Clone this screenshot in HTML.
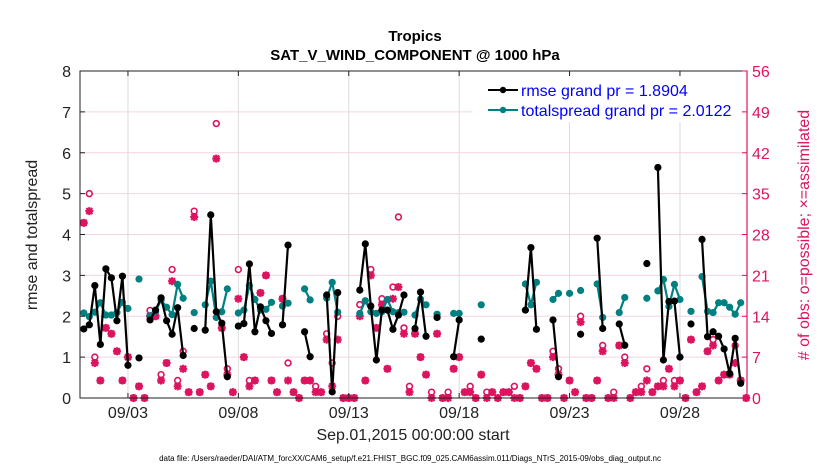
<!DOCTYPE html>
<html><head><meta charset="utf-8"><style>
body{margin:0;background:#fff;}
svg{display:block;font-family:"Liberation Sans",sans-serif;}
</style></head><body>
<svg id="chart" width="830" height="470" viewBox="0 0 830 470">
<g id="grid"></g>
<g id="marks"></g>
<g id="axes"></g>
</svg>
<script>
const rmse=[1.69,1.79,2.75,1.31,3.16,2.94,1.89,2.98,0.80,null,0.98,null,1.91,2.15,2.45,1.89,1.56,2.21,1.04,null,1.70,null,1.66,4.48,2.11,1.83,0.52,null,1.76,1.82,3.28,1.62,2.23,1.89,1.58,null,1.79,3.74,null,null,1.62,1.01,null,null,2.52,0.15,2.58,null,null,null,2.64,3.77,2.25,0.93,2.15,2.15,1.68,2.03,2.52,null,1.70,2.59,1.51,null,1.97,null,null,1.01,1.91,null,null,null,1.44,null,null,null,null,null,null,null,2.15,3.68,1.68,null,null,1.91,0.52,null,null,null,1.56,null,null,3.91,1.70,null,null,1.81,1.29,null,null,null,3.29,null,5.64,0.93,2.36,2.37,1.00,null,1.81,null,3.88,1.50,1.62,1.51,1.20,0.60,1.46,0.36,null];
const spread=[2.08,1.99,2.10,2.33,2.03,2.03,2.09,2.34,2.19,null,2.91,null,2.01,2.12,2.40,2.22,2.04,2.78,2.44,null,2.09,null,2.28,2.86,1.97,2.11,2.67,null,2.08,2.15,2.75,2.41,2.15,2.17,2.34,null,2.25,2.32,null,null,2.67,2.40,null,null,2.44,2.83,2.10,null,null,null,2.07,2.38,2.11,2.07,2.11,2.41,2.11,2.09,2.10,null,2.03,2.42,2.28,null,2.05,null,null,2.07,2.07,null,null,null,2.28,null,null,null,null,null,null,null,2.79,2.28,2.83,null,null,2.41,2.56,null,2.56,null,2.63,null,null,2.79,1.97,null,null,2.09,2.46,null,null,null,2.44,null,2.62,2.90,2.24,2.78,2.41,null,2.12,null,2.97,2.12,2.09,2.33,2.33,2.22,2.05,2.33,null];
const assimilated=[30,32,6,3,12,11,8,3,7,0,2,0,14,14,3,6,20,2,5,1,31,1,4,2,41,12,4,1,17,7,2,3,18,21,3,1,17,3,1,0,3,3,1,1,10,2,10,0,0,0,14,3,21,12,16,5,17,19,11,1,11,7,4,0,11,0,0,5,7,1,1,0,4,0,1,0,1,1,0,0,2,6,5,0,0,7,4,0,3,1,13,0,0,3,8,0,0,9,6,0,1,1,3,1,2,2,5,2,3,0,10,1,2,8,9,3,4,4,6,3,0];
const possible=[30,35,7,3,12,11,8,3,7,0,2,0,15,14,4,6,22,3,8,1,32,1,4,2,47,12,5,1,22,7,3,3,18,21,3,1,17,6,1,0,3,3,2,1,11,6,14,0,0,0,16,3,22,12,17,5,19,31,12,2,11,7,4,1,11,0,1,5,7,1,2,0,4,1,1,0,1,1,2,0,2,6,5,0,0,8,5,0,3,1,14,0,0,3,9,0,1,9,7,0,1,2,5,1,2,3,5,3,3,0,10,1,2,8,10,3,4,4,9,3,0];
const yTicks=[0,1,2,3,4,5,6,7,8];
const yRightTicks=[0,7,14,21,28,35,42,49,56];
const xTickLabels=["09/03","09/08","09/13","09/18","09/23","09/28"];
const xTickDays=[2,7,12,17,22,27];

const NS="http://www.w3.org/2000/svg";
const L=80,R=747,T=71,B=398;
const X0=83.8,PX_DAY=22.08;
function xs(i){return X0+i*PX_DAY/4;}
function xd(d){return X0+d*PX_DAY;}
function ys(v){return B-(v/8)*(B-T);}
function yr(n){return B-(n/56)*(B-T);}
function mk(tag,attrs,parent){const e=document.createElementNS(NS,tag);for(const k in attrs)e.setAttribute(k,attrs[k]);parent.appendChild(e);return e;}
const grid=document.getElementById('grid'),marks=document.getElementById('marks'),axes=document.getElementById('axes');
const PINK="#dc1460";

yTicks.forEach(v=>{const l=mk('line',{x1:L,x2:R,y1:ys(v),y2:ys(v),stroke:'#f5d3e2','stroke-width':1},grid);

});
xTickDays.forEach(d=>{const l=mk('line',{x1:xd(d),x2:xd(d),y1:T,y2:B,stroke:'#dcdcdc','stroke-width':1},grid);

});

possible.forEach((n,i)=>{const c=mk('circle',{cx:xs(i),cy:yr(n),r:2.9,fill:'#fff',stroke:PINK,'stroke-width':1.6},marks);

});
assimilated.forEach((n,i)=>{const x=xs(i),y=yr(n),s=4;
const g=mk('path',{d:`M${x-s} ${y}H${x+s}M${x} ${y-s}V${y+s}M${x-3} ${y-3}L${x+3} ${y+3}M${x-3} ${y+3}L${x+3} ${y-3}`,stroke:PINK,'stroke-width':2.2,fill:'none'},marks);

});

function series(arr,color,name){
  let d='';let pen=false;
  arr.forEach((v,i)=>{if(v===null){pen=false;return;}d+=(pen?'L':'M')+xs(i).toFixed(1)+' '+ys(v).toFixed(1);pen=true;});
  const p=mk('path',{d:d,stroke:color,'stroke-width':2.2,fill:'none','stroke-linejoin':'round'},marks);
  
  
  arr.forEach((v,i)=>{if(v===null)return;const c=mk('circle',{cx:xs(i),cy:ys(v),r:3.6,fill:color},marks);
  
  });
}
series(spread,'#008080','totalspread');
series(rmse,'#000000','rmse');

mk('rect',{x:L,y:T,width:R-L,height:B-T,fill:'none',stroke:'#222','stroke-width':1},axes);
mk('line',{x1:R,x2:R,y1:T,y2:B,stroke:PINK,'stroke-width':1.2},axes);
yTicks.forEach(v=>{mk('line',{x1:L,x2:L+5,y1:ys(v),y2:ys(v),stroke:'#222'},axes);
const t=mk('text',{x:L-9,y:ys(v)+6,'text-anchor':'end','font-size':16,fill:'#222'},axes);t.textContent=v;

});
yRightTicks.forEach(n=>{mk('line',{x1:R-5,x2:R,y1:yr(n),y2:yr(n),stroke:PINK},axes);
const t=mk('text',{x:R+5,y:yr(n)+6,'font-size':16,fill:PINK},axes);t.textContent=n;

});
xTickDays.forEach((d,k)=>{mk('line',{x1:xd(d),x2:xd(d),y1:B,y2:B-5,stroke:'#222'},axes);mk('line',{x1:xd(d),x2:xd(d),y1:T,y2:T+5,stroke:'#222'},axes);
const t=mk('text',{x:xd(d),y:B+20,'text-anchor':'middle','font-size':16,fill:'#222'},axes);t.textContent=xTickLabels[k];

});
</script>
<svg width="830" height="470" style="position:absolute;left:0;top:0">
<text x="415" y="41" text-anchor="middle" font-size="15" font-weight="bold" fill="#000">Tropics</text>
<text x="415" y="60" text-anchor="middle" font-size="15" font-weight="bold" fill="#000">SAT_V_WIND_COMPONENT @ 1000 hPa</text>
<text transform="translate(37,235) rotate(-90)" text-anchor="middle" font-size="16" fill="#222">rmse and totalspread</text>
<text transform="translate(809,235) rotate(-90)" text-anchor="middle" font-size="16" fill="#dc1460"># of obs: o=possible; ×=assimilated</text>
<text x="413" y="440" text-anchor="middle" font-size="16" fill="#222">Sep.01,2015 00:00:00 start</text>
<text x="410" y="461" text-anchor="middle" font-size="8" fill="#000">data file: /Users/raeder/DAI/ATM_forcXX/CAM6_setup/f.e21.FHIST_BGC.f09_025.CAM6assim.011/Diags_NTrS_2015-09/obs_diag_output.nc</text>
<g>
<rect x="472" y="76" width="270" height="46" fill="#fff"/>
<g>
<line x1="488" x2="518" y1="90" y2="90" stroke="#000" stroke-width="2"/><circle cx="503" cy="90" r="3.2" fill="#000"/>
<text x="521" y="96" font-size="16" fill="#0000ff">rmse grand pr = 1.8904</text></g>
<g>
<line x1="488" x2="518" y1="110" y2="110" stroke="#008080" stroke-width="2"/><circle cx="503" cy="110" r="3.2" fill="#008080"/>
<text x="521" y="116" font-size="16" fill="#0000ff">totalspread grand pr = 2.0122</text></g>
</g>
</svg>
</body></html>
